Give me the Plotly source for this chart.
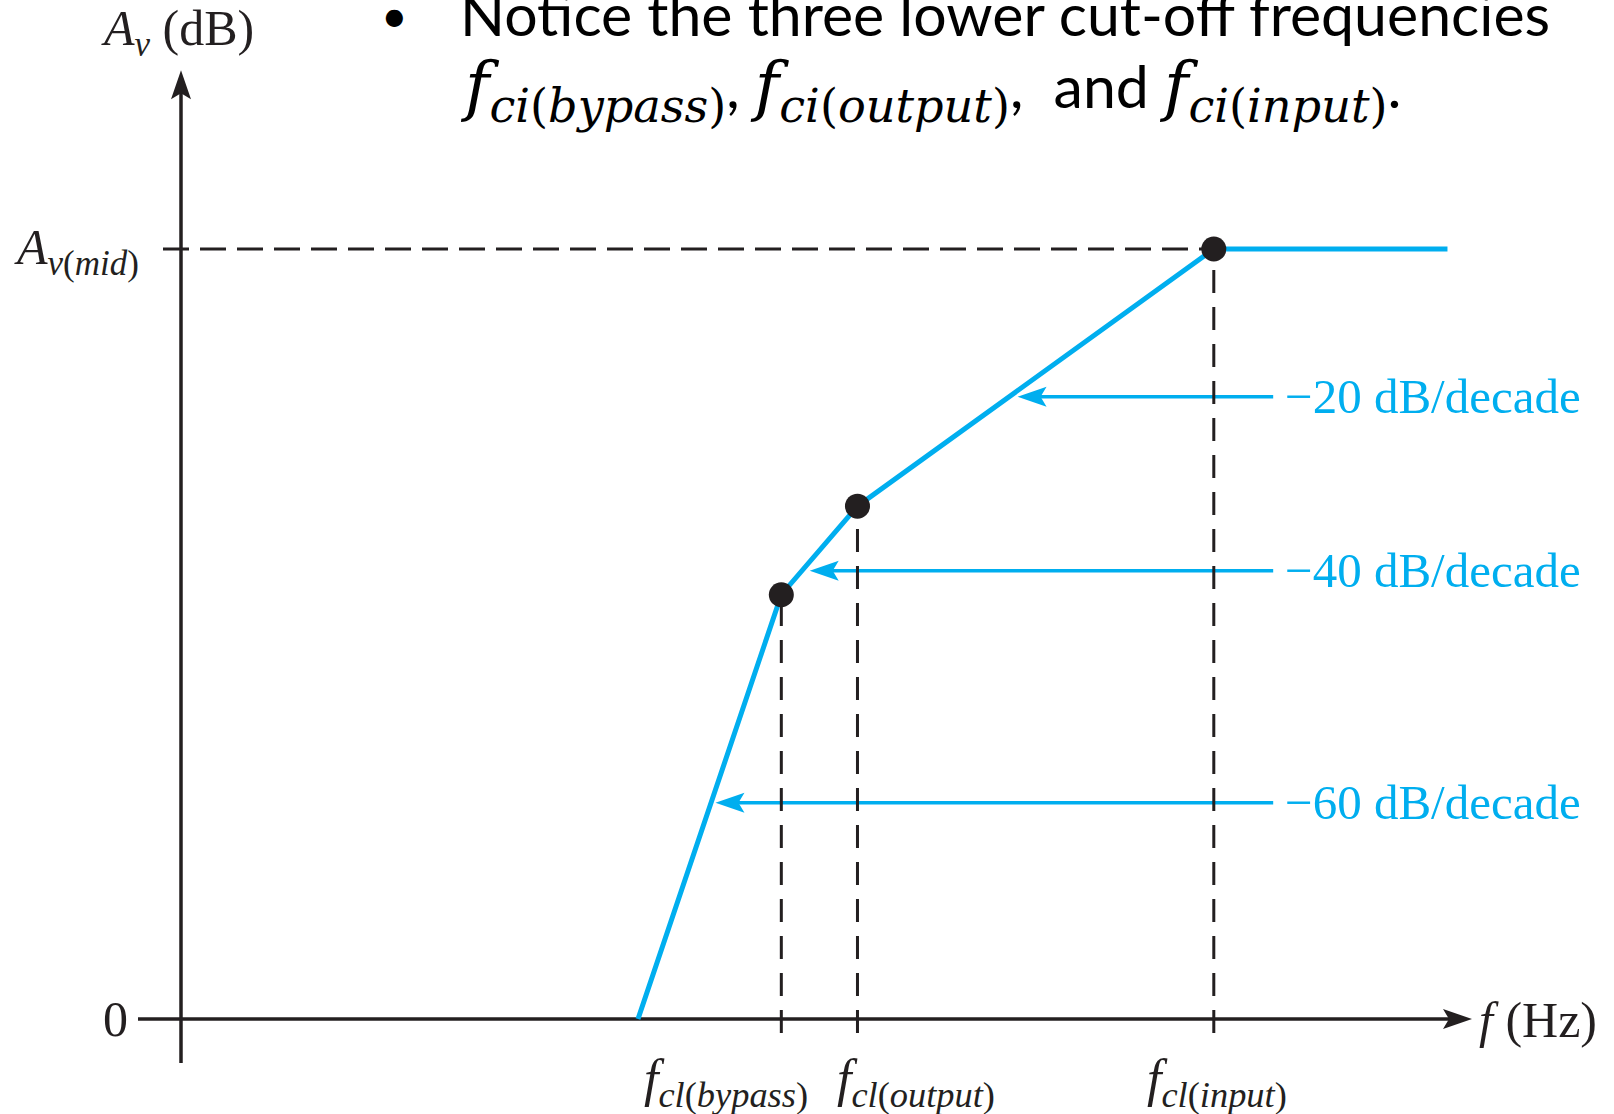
import plotly.graph_objects as go

# ---------------- data ----------------
# x: log-frequency (arbitrary units, origin = 0), y: gain (arbitrary dB units, 0 at axis)
curve_f = [35.4, 46.5, 52.4, 80.0, 98.1]
curve_A = [0.0, 55.1, 66.6, 100.0, 100.0]
corner_names = ["bypass", "output", "input"]
corner_f = [46.5, 52.4, 80.0]
corner_A = [55.1, 66.6, 100.0]
A_mid = 100.0
slope_labels = ["−20 dB/decade", "−40 dB/decade", "−60 dB/decade"]
slope_arrow_A = [80.8, 58.2, 28.1]
slope_arrow_tip_f = [64.8, 48.7, 41.4]
slope_arrow_tail_f = [84.6, 84.6, 84.6]
x_axis_end = 100.0
y_axis_end = 123.2

# ---------------- layout constants ----------------
W, H = 1614, 1114
OX, OY = 181, 1019          # pixel position of the origin
XS, YS = 12.91, 7.7         # pixels per data unit
BLUE = "#00AEEF"
INK = "#231F20"
SERIF = "Liberation Serif"
LABEL_SIZE = 50


def dx(p):
    return p / XS


def dy(p):
    return p / YS


fig = go.Figure()


def line(xs, ys, color=INK, width=3.5, dash=None):
    fig.add_trace(go.Scatter(x=xs, y=ys, mode="lines",
                             line=dict(color=color, width=width, dash=dash),
                             hoverinfo="skip", showlegend=False))


# axes
line([0, 0], [-dy(44), y_axis_end - dy(14)])
line([-dx(43), x_axis_end - dx(14)], [0, 0])

# slope arrows (shafts)
for tip, tail, a in zip(slope_arrow_tip_f, slope_arrow_tail_f, slope_arrow_A):
    line([tail, tip + dx(14)], [a, a], color=BLUE, width=3.5)

# dashed guide lines
line([-dx(18), corner_f[2]], [A_mid, A_mid], width=3, dash="26px,11px")
for f, a in zip(corner_f, corner_A):
    line([f, f], [-dy(14), a], width=3, dash="23px,14px")

# response curve
line(curve_f, curve_A, color=BLUE, width=5)

# corner dots
fig.add_trace(go.Scatter(x=corner_f, y=corner_A, mode="markers",
                         marker=dict(color=INK, size=25, line=dict(width=0)),
                         hoverinfo="skip", showlegend=False))

# arrowheads (pixel-sized paths anchored at data points)
shapes = []


def head(xa, ya, path, color):
    shapes.append(dict(type="path", xref="x", yref="y", xsizemode="pixel",
                       ysizemode="pixel", xanchor=xa, yanchor=ya, path=path,
                       fillcolor=color, line=dict(width=0), layer="above"))


head(x_axis_end, 0, "M0,0L-29,10L-23,0L-29,-10Z", INK)
head(0, y_axis_end, "M0,0L-10,-29L0,-23L10,-29Z", INK)
for tip, a in zip(slope_arrow_tip_f, slope_arrow_A):
    head(tip, a, "M0,0L29,10L23,0L29,-10Z", BLUE)

annotations = []


def label(text, x, y, xref="x", yref="y", size=LABEL_SIZE, color=INK,
          family=SERIF, xanchor="center", yanchor="middle", xshift=0, yshift=0):
    annotations.append(dict(text=text, x=x, y=y, xref=xref, yref=yref,
                            showarrow=False, xanchor=xanchor, yanchor=yanchor,
                            xshift=xshift, yshift=yshift,
                            font=dict(family=family, size=size, color=color)))


label("<i>A</i><sub><i>v</i></sub> (dB)", 0, y_axis_end, yshift=38, xshift=-4)
label("<i>A</i><sub><i>v</i>(<i>mid</i>)</sub>", 0, A_mid, xanchor="right", xshift=-40, yshift=-2)
label("0", 0, 0, xshift=-66)
label("<i>f</i> (Hz)", x_axis_end, 0, xanchor="left", xshift=5, yshift=-1)

tick_xshift = [-55, 59, 3]
for name, f, xs in zip(corner_names, corner_f, tick_xshift):
    label("<i>f</i><sub><i>cl</i>(<i>%s</i>)</sub>" % name, f, 0, size=52,
          xshift=xs, yshift=-63)

for text, tail, a in zip(slope_labels, slope_arrow_tail_f, slope_arrow_A):
    label(text, tail, a, size=49, color=BLUE, xanchor="left", xshift=10)

# slide text (bullet)
SANS = "Lato"
label("•", 394 / W, 1 - 19 / H, xref="paper", yref="paper", family=SANS, size=46,
      color="#000000", yshift=4)
label("Notice the three lower cut-off frequencies", 458 / W, 1 - 31 / H, xref="paper",
      yref="paper", family=SANS, size=59, color="#000000", xanchor="left",
      yanchor="bottom", yshift=-20)


def fsub(name):
    return ("<span style='font-family:DejaVu Serif;font-size:66px'><i>f</i>"
            "<sub><i>ci</i>(<i>%s</i>)</sub></span>" % name)


line2 = "%s, %s,  and %s." % (fsub("bypass"), fsub("output"), fsub("input"))
label(line2, 458 / W, 1 - 108 / H, xref="paper", yref="paper", family=SANS, size=59,
      color="#000000", xanchor="left", yanchor="bottom", yshift=-27)

fig.update_layout(
    width=W, height=H, autosize=False,
    margin=dict(l=0, r=0, t=0, b=0),
    paper_bgcolor="white", plot_bgcolor="white",
    xaxis=dict(range=[-OX / XS, (W - OX) / XS], visible=False, fixedrange=True),
    yaxis=dict(range=[-(H - OY) / YS, OY / YS], visible=False, fixedrange=True),
    shapes=shapes, annotations=annotations, showlegend=False,
)

fig.write_html("out.html", config={"displayModeBar": False},
               post_script="document.body.style.margin='0';")
